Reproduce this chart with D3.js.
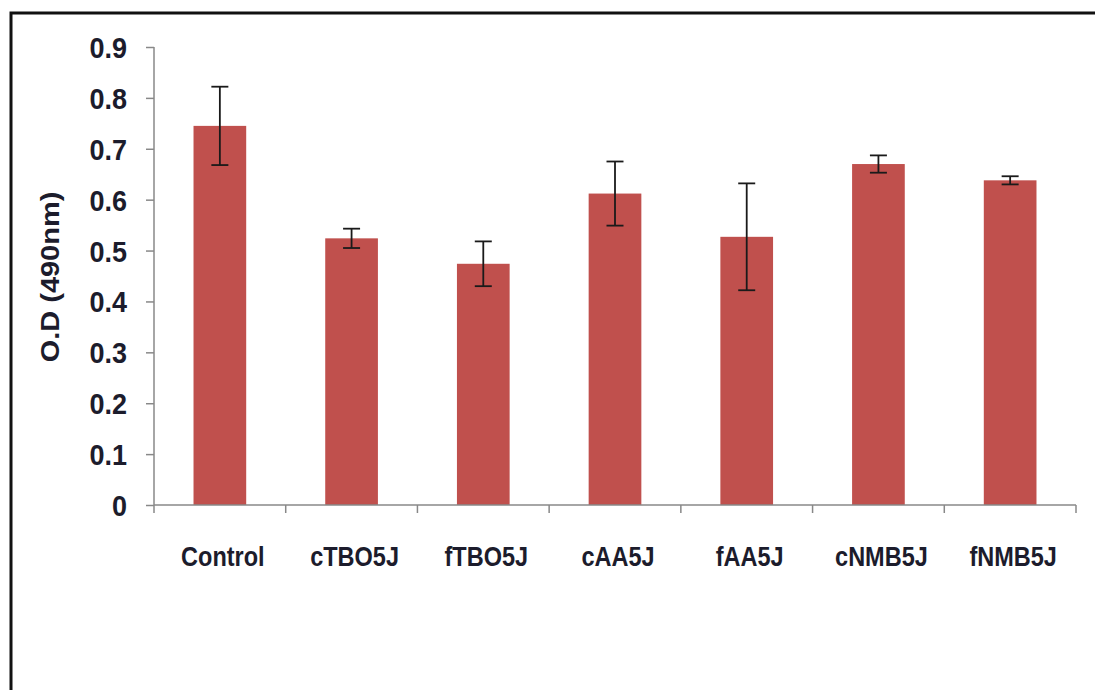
<!DOCTYPE html>
<html><head><meta charset="utf-8">
<script src="https://cdn.jsdelivr.net/npm/d3@7"></script>
<style>html,body{margin:0;padding:0;background:#fff;overflow:hidden}</style>
</head><body>
<svg id="c" width="1095" height="690"></svg>
<script>
const categories = ["Control","cTBO5J","fTBO5J","cAA5J","fAA5J","cNMB5J","fNMB5J"];
const values = [0.745,0.524,0.474,0.612,0.527,0.670,0.638];
const errors = [0.077,0.019,0.044,0.063,0.105,0.017,0.008];
const yTicks = [0,0.1,0.2,0.3,0.4,0.5,0.6,0.7,0.8,0.9];
const yLabel = "O.D (490nm)";

(function(){
const svg = d3.select("#c");
const pL = 154, pR = 1076, pT = 47, pB = 505;
const sx = 0.87; // horizontal squeeze of the source image's text
const textCol = "#1c1c2c";
const font = "Arial, 'Liberation Sans', sans-serif";

svg.append("rect").attr("x",0).attr("y",0).attr("width",1095).attr("height",690).attr("fill","#fff");
// frame
svg.append("rect").attr("x",11).attr("y",13).attr("width",1200).attr("height",800)
  .attr("fill","none").attr("stroke","#111").attr("stroke-width",3);

const x = d3.scaleBand().domain(categories).range([pL,pR]).paddingInner(0.6).paddingOuter(0.3);
const y = d3.scaleLinear().domain([0,0.9]).range([pB,pT]);

// bars
svg.selectAll("rect.bar").data(categories).enter().append("rect")
  .attr("class","bar")
  .attr("x",d=>x(d)).attr("width",x.bandwidth())
  .attr("y",(d,i)=>y(values[i])).attr("height",(d,i)=>y(0)-y(values[i]))
  .attr("fill","#C0504D");

// error bars
const eb = svg.append("g").attr("stroke","#1a1a1a").attr("stroke-width",1.8);
categories.forEach((c,i)=>{
  const cx = x(c)+x.bandwidth()/2;
  const hi = y(values[i]+errors[i]), lo = y(values[i]-errors[i]);
  eb.append("line").attr("x1",cx).attr("x2",cx).attr("y1",hi).attr("y2",lo);
  eb.append("line").attr("x1",cx-8.5).attr("x2",cx+8.5).attr("y1",hi).attr("y2",hi);
  eb.append("line").attr("x1",cx-8.5).attr("x2",cx+8.5).attr("y1",lo).attr("y2",lo);
});

// y axis
const yAxis = d3.axisLeft(y).tickValues(yTicks).tickSize(8).tickPadding(0).tickFormat(d=>d===0?"0":d3.format(".1f")(d));
const gy = svg.append("g").attr("transform",`translate(${pL},0)`).call(yAxis);
gy.select(".domain").attr("stroke","#888").attr("stroke-width",1.5).attr("d",`M0,${pT}H0V${pB}`);
gy.selectAll(".tick line").attr("stroke","#888").attr("stroke-width",1.5);
gy.selectAll(".tick text").attr("x",null).attr("text-anchor","end")
  .attr("transform",`translate(-27,0) scale(0.9,1)`)
  .attr("font-family",font).attr("font-weight","bold").attr("font-size",30)
  .attr("fill",textCol).attr("dy","0.35em");

// x axis
const step = x.step();
const bounds = d3.range(categories.length+1).map(i=>pL+i*step);
const gx = svg.append("g");
gx.append("line").attr("x1",pL).attr("x2",pR).attr("y1",pB).attr("y2",pB).attr("stroke","#888").attr("stroke-width",1.5);
gx.selectAll("line.t").data(bounds).enter().append("line").attr("class","t")
  .attr("x1",d=>d).attr("x2",d=>d).attr("y1",pB).attr("y2",pB+8).attr("stroke","#888").attr("stroke-width",1.5);
gx.selectAll("text").data(categories).enter().append("text")
  .attr("transform",d=>`translate(${x(d)+x.bandwidth()/2+3},566) scale(${sx},1)`)
  .attr("text-anchor","middle")
  .attr("font-family",font).attr("font-weight","bold").attr("font-size",27)
  .attr("fill",textCol).text(d=>d);

// y label
svg.append("text")
  .attr("transform",`translate(59,277) scale(${sx},1) rotate(-90)`)
  .attr("text-anchor","middle")
  .attr("font-family",font).attr("font-weight","bold").attr("font-size",29)
  .attr("fill",textCol).text(yLabel);
})();
</script>
</body></html>
